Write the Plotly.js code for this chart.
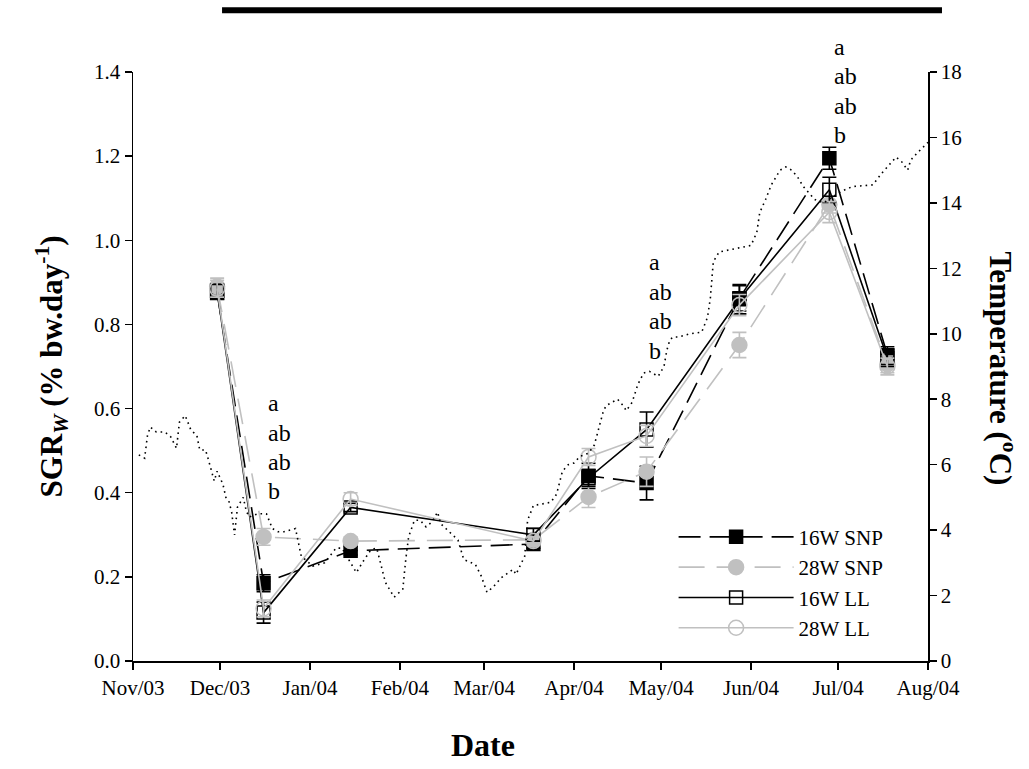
<!DOCTYPE html>
<html>
<head>
<meta charset="utf-8">
<script src="https://cdn.plot.ly/plotly-3.0.1.min.js"></script>
<style>html,body{margin:0;padding:0;background:#fff;}#chart{width:1029px;height:769px;}</style>
</head>
<body>
<div id="chart"></div>
<script>
// Sampling dates
var sampleDates = ['2003-11-30','2003-12-16','2004-01-15','2004-03-18','2004-04-06','2004-04-26','2004-05-28','2004-06-28','2004-07-18'];

// SGRw series (% bw.day-1) and SE
var snp16 = [0.875, 0.185, 0.262, 0.278, 0.440, 0.423, 0.862, 1.195, 0.727];
var snp16Err = [0.015, 0.020, 0.010, 0.010, 0.030, 0.040, 0.030, 0.026, 0.020];
var snp28 = [0.890, 0.295, 0.285, 0.288, 0.390, 0.450, 0.751, 1.085, 0.705];
var snp28Err = [0.020, 0.020, 0.010, 0.010, 0.025, 0.035, 0.030, 0.020, 0.020];
var ll16 = [0.880, 0.115, 0.365, 0.300, 0.435, 0.550, 0.860, 1.120, 0.720];
var ll16Err = [0.015, 0.025, 0.010, 0.015, 0.020, 0.042, 0.035, 0.030, 0.020];
var ll28 = [0.885, 0.125, 0.385, 0.285, 0.485, 0.535, 0.846, 1.067, 0.700];
var ll28Err = [0.020, 0.020, 0.015, 0.010, 0.020, 0.025, 0.025, 0.025, 0.020];

var seriesNames = ['16W SNP', '28W SNP', '16W LL', '28W LL'];

// Water temperature (°C)
var tempDates = ['2003-11-03','2003-11-05','2003-11-06','2003-11-07','2003-11-09','2003-11-12','2003-11-14','2003-11-16','2003-11-17','2003-11-19','2003-11-21','2003-11-23','2003-11-24','2003-11-26','2003-11-27','2003-11-29','2003-11-30','2003-12-02','2003-12-03','2003-12-04','2003-12-05','2003-12-06','2003-12-07','2003-12-09','2003-12-10','2003-12-11','2003-12-14','2003-12-17','2003-12-19','2003-12-21','2003-12-23','2003-12-25','2003-12-27','2003-12-29','2004-01-02','2004-01-06','2004-01-10','2004-01-12','2004-01-15','2004-01-17','2004-01-19','2004-01-22','2004-01-24','2004-01-26','2004-01-27','2004-01-30','2004-02-02','2004-02-03','2004-02-04','2004-02-06','2004-02-08','2004-02-10','2004-02-12','2004-02-14','2004-02-15','2004-02-18','2004-02-21','2004-02-22','2004-02-23','2004-02-27','2004-02-29','2004-03-02','2004-03-04','2004-03-07','2004-03-11','2004-03-12','2004-03-15','2004-03-16','2004-03-18','2004-03-21','2004-03-24','2004-03-26','2004-03-27','2004-03-28','2004-03-30','2004-04-01','2004-04-03','2004-04-06','2004-04-08','2004-04-09','2004-04-10','2004-04-11','2004-04-12','2004-04-14','2004-04-16','2004-04-18','2004-04-19','2004-04-21','2004-04-22','2004-04-23','2004-04-25','2004-04-27','2004-04-29','2004-04-30','2004-05-02','2004-05-03','2004-05-04','2004-05-05','2004-05-07','2004-05-11','2004-05-15','2004-05-17','2004-05-18','2004-05-19','2004-05-21','2004-05-27','2004-06-01','2004-06-03','2004-06-04','2004-06-06','2004-06-08','2004-06-11','2004-06-13','2004-06-15','2004-06-17','2004-06-19','2004-06-21','2004-06-23','2004-06-26','2004-07-02','2004-07-06','2004-07-13','2004-07-16','2004-07-18','2004-07-21','2004-07-23','2004-07-25','2004-07-26','2004-07-28','2004-08-01'];
var tempValues = [6.3,6.2,6.9,7.15,7.0,7.0,6.85,6.5,7.3,7.5,7.05,6.9,6.45,6.45,6.15,5.5,5.8,5.4,5.0,4.9,4.55,3.85,4.7,5.0,4.6,4.4,4.5,4.5,4.05,3.95,3.95,4.0,4.05,3.2,2.9,3.0,3.45,3.45,3.0,2.7,3.0,3.4,3.45,2.7,2.4,1.95,2.2,3.1,3.8,4.3,4.3,4.1,4.25,4.55,4.2,3.95,3.7,3.4,3.1,2.95,2.6,2.1,2.25,2.55,2.8,2.65,3.2,4.3,4.75,4.8,4.85,5.1,5.45,5.8,6.0,6.05,6.25,6.35,6.6,6.95,7.3,7.6,7.8,7.9,8.0,7.8,7.65,7.9,8.2,8.45,8.8,8.85,8.75,8.7,9.0,9.5,9.8,9.9,9.9,10.0,10.05,10.5,11.1,12.2,12.5,12.6,12.7,13.1,13.7,14.1,14.55,15.0,15.1,15.0,14.8,14.5,14.3,14.1,14.0,14.35,14.5,14.55,14.9,15.1,15.4,15.25,15.0,15.3,15.5,15.85];

// Axis ticks
var monthTicks = ['2003-11-01','2003-12-01','2004-01-01','2004-02-01','2004-03-01','2004-04-01','2004-05-01','2004-06-01','2004-07-01','2004-08-01'];
var monthLabels = ['Nov/03','Dec/03','Jan/04','Feb/04','Mar/04','Apr/04','May/04','Jun/04','Jul/04','Aug/04'];

// Significance letters: groups (date, top letter level in SGR units)
var letterDates = ['2003-12-17', '2004-04-26', '2004-06-29'];
var letterTop = [0.613, 0.948, 1.46];
var letterStep = 0.07;
var letters = ['a', 'ab', 'ab', 'b'];

var FONT = 'Liberation Serif, Times New Roman, serif';
var GREY = '#c0c0c0';

var traces = [];
traces.push({
  x: tempDates, y: tempValues, yaxis: 'y2', type: 'scatter', mode: 'lines',
  line: {color: '#000', width: 1.6, dash: '1.6px,4px'}, showlegend: false, hoverinfo: 'skip'
});
var specs = [
  {y: snp16, e: snp16Err, color: '#000', dash: '22px,9px', symbol: 'square', size: 13},
  {y: snp28, e: snp28Err, color: GREY, dash: '26px,12px', symbol: 'circle', size: 15},
  {y: ll16, e: ll16Err, color: '#000', dash: 'solid', symbol: 'square-open', size: 13},
  {y: ll28, e: ll28Err, color: GREY, dash: 'solid', symbol: 'circle-open', size: 15}
];
specs.forEach(function(s, i) {
  traces.push({
    x: sampleDates, y: s.y, name: seriesNames[i], type: 'scatter', mode: 'lines+markers',
    line: {color: s.color, width: 1.6, dash: s.dash},
    marker: {symbol: s.symbol, size: s.size, color: s.color, line: {color: s.color, width: 1.5}},
    error_y: {type: 'data', array: s.e, visible: true, color: s.color, thickness: 1.6, width: 7}
  });
});

var annotations = [];
letterDates.forEach(function(d, g) {
  letters.forEach(function(t, k) {
    annotations.push({
      xref: 'x', yref: 'paper', x: d, y: (letterTop[g] - k * letterStep) / 1.4,
      text: t, showarrow: false, xanchor: 'left', yanchor: 'middle',
      font: {family: FONT, size: 24, color: '#000'}
    });
  });
});
annotations.push({
  xref: 'paper', yref: 'paper', x: 1.094, y: 0.497, textangle: 90,
  text: '<b>Temperature (<sup>o</sup>C)</b>', showarrow: false,
  xanchor: 'center', yanchor: 'middle', font: {family: FONT, size: 31, color: '#000'}
});
annotations.push({
  xref: 'paper', yref: 'paper', x: 0.44, y: -0.143,
  text: '<b>Date</b>', showarrow: false, xanchor: 'center', yanchor: 'middle',
  font: {family: FONT, size: 32, color: '#000'}
});

var layout = {
  width: 1029, height: 769,
  margin: {l: 133, r: 101, t: 72, b: 108},
  paper_bgcolor: '#fff', plot_bgcolor: '#fff',
  font: {family: FONT, size: 20, color: '#000'},
  showlegend: true,
  legend: {x: 0.68, y: 0.245, xanchor: 'left', yanchor: 'top', bgcolor: 'rgba(0,0,0,0)',
           font: {family: FONT, size: 21, color: '#000'}, tracegroupgap: 0, itemwidth: 115},
  xaxis: {
    type: 'date', range: ['2003-11-01', '2004-08-01'],
    tickmode: 'array', tickvals: monthTicks, ticktext: monthLabels,
    showgrid: false, zeroline: false, showline: true, linecolor: '#000', linewidth: 1.5,
    ticks: 'outside', ticklen: 7, tickwidth: 1.5, tickcolor: '#000',
    tickfont: {family: FONT, size: 21, color: '#000'}
  },
  yaxis: {
    range: [0, 1.4], tickvals: [0, 0.2, 0.4, 0.6, 0.8, 1.0, 1.2, 1.4], tickformat: '.1f',
    showgrid: false, zeroline: false, showline: true, linecolor: '#000', linewidth: 1.5,
    ticks: 'outside', ticklen: 7, tickwidth: 1.5, tickcolor: '#000',
    tickfont: {family: FONT, size: 21, color: '#000'},
    title: {text: '<b>SGR<sub><i>W</i></sub> (% bw.day<sup>-1</sup>)</b>', standoff: 22,
            font: {family: FONT, size: 31, color: '#000'}}
  },
  yaxis2: {
    range: [0, 18], tickvals: [0, 2, 4, 6, 8, 10, 12, 14, 16, 18],
    overlaying: 'y', side: 'right',
    showgrid: false, zeroline: false, showline: true, linecolor: '#000', linewidth: 1.5,
    ticks: 'outside', ticklen: 7, tickwidth: 1.5, tickcolor: '#000',
    tickfont: {family: FONT, size: 21, color: '#000'}
  },
  shapes: [{type: 'line', xref: 'paper', yref: 'paper', x0: 0.112, x1: 1.0176, y0: 1.105, y1: 1.105,
            line: {color: '#000', width: 6}}],
  annotations: annotations
};

Plotly.newPlot('chart', traces, layout, {displayModeBar: false, staticPlot: true});
</script>
</body>
</html>
